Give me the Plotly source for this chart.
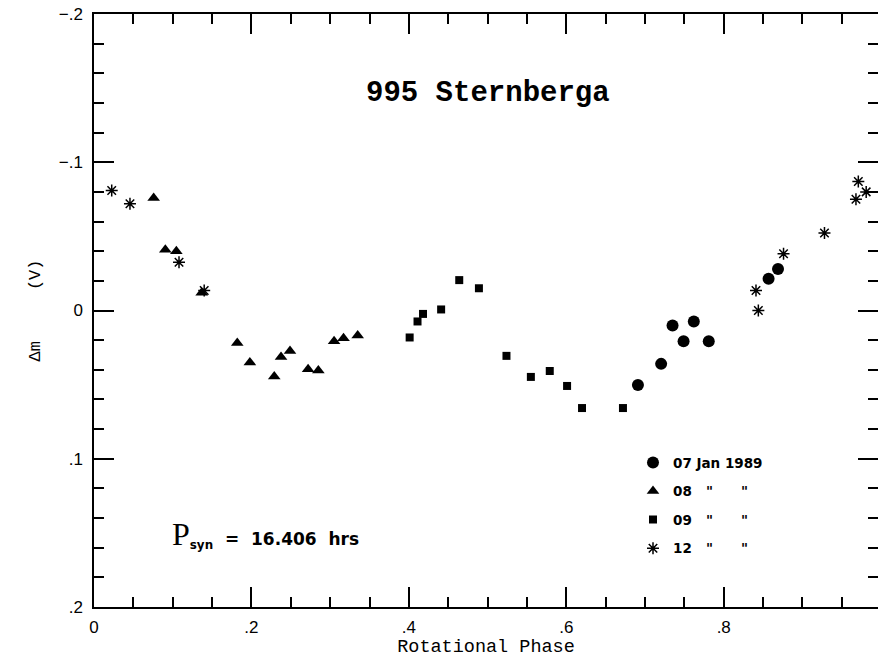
import plotly.graph_objects as go

# ---- data (rotational phase, delta m in V) ----
jan07_phase = [0.691, 0.7205, 0.735, 0.749, 0.762, 0.781, 0.857, 0.869]
jan07_dm = [0.0502, 0.036, 0.0101, 0.0207, 0.0074, 0.0207, -0.0214, -0.028]

jan08_phase = [0.0758, 0.0906, 0.1046, 0.1368, 0.182, 0.198, 0.229, 0.2376,
               0.249, 0.272, 0.285, 0.305, 0.317, 0.335]
jan08_dm = [-0.0759, -0.041, -0.0399, -0.012, 0.022, 0.035, 0.0446, 0.0313,
            0.0273, 0.0396, 0.0405, 0.0207, 0.0187, 0.0169]

jan09_phase = [0.401, 0.411, 0.418, 0.441, 0.464, 0.489, 0.524, 0.555,
               0.579, 0.601, 0.620, 0.672]
jan09_dm = [0.0182, 0.0074, 0.0023, -0.0007, -0.0205, -0.015, 0.0306, 0.0448,
            0.0408, 0.0509, 0.0658, 0.0658]

jan12_phase = [0.0225, 0.0457, 0.108, 0.140, 0.841, 0.844, 0.876, 0.928,
               0.968, 0.971, 0.981]
jan12_dm = [-0.081, -0.072, -0.0326, -0.0135, -0.0135, 0.0, -0.0383, -0.0523,
            -0.075, -0.087, -0.080]

legend_names = ['07 Jan 1989', '08   "      "', '09   "      "', '12   "      "']

x_tickvals = [0, 0.2, 0.4, 0.6, 0.8]
x_ticktext = ['0', '.2', '.4', '.6', '.8']
y_tickvals = [-0.2, -0.1, 0, 0.1, 0.2]
y_ticktext = ['\u2212.2', '\u2212.1', '0', '.1', '.2']

fig = go.Figure()
fig.add_trace(go.Scatter(x=jan07_phase, y=jan07_dm, mode='markers', name=legend_names[0],
                         legendgroup='a',
                         marker=dict(symbol='circle', size=12, color='black')))
fig.add_trace(go.Scatter(x=jan08_phase, y=jan08_dm, mode='markers', name=legend_names[1],
                         legendgroup='b',
                         marker=dict(symbol='triangle-up', size=11, color='black')))
fig.add_trace(go.Scatter(x=jan09_phase, y=jan09_dm, mode='markers', name=legend_names[2],
                         legendgroup='c',
                         marker=dict(symbol='square', size=8, color='black')))
fig.add_trace(go.Scatter(x=jan12_phase, y=jan12_dm, mode='markers', name=legend_names[3],
                         legendgroup='d',
                         marker=dict(symbol='asterisk-open', size=10, color='black',
                                     line=dict(color='black', width=1.5))))
# empty trace so the right-hand tick axis is drawn
fig.add_trace(go.Scatter(x=[], y=[], yaxis='y2', showlegend=False, hoverinfo='skip'))

tickfont = dict(family='Liberation Sans', size=17, color='black')

fig.update_xaxes(
    range=[0, 0.996], tickvals=x_tickvals, ticktext=x_ticktext,
    showline=True, linecolor='black', linewidth=1.5, mirror='ticks',
    ticks='inside', tickcolor='black', tickwidth=1.5, ticklen=20,
    showgrid=False, zeroline=False, tickfont=tickfont,
    minor=dict(dtick=0.05, ticks='inside', ticklen=10, tickcolor='black', tickwidth=1.5,
               showgrid=False),
    title=dict(text='Rotational Phase', font=dict(family='Liberation Mono', size=18.5, color='black'),
               standoff=2),
    ticklabelstandoff=4)

fig.update_layout(
    yaxis=dict(
        range=[0.2, -0.2], tickvals=y_tickvals, ticktext=y_ticktext,
        showline=True, linecolor='black', linewidth=1.5, mirror=False,
        ticks='inside', tickcolor='black', tickwidth=1.5, ticklen=20,
        showgrid=False, zeroline=False, tickfont=tickfont,
        minor=dict(dtick=0.02, ticks='inside', ticklen=10, tickcolor='black', tickwidth=1.5,
                   showgrid=False),
        title=dict(text='\u0394m     (V)', font=dict(family='Liberation Mono', size=17, color='black'),
                   standoff=14),
        ticklabelstandoff=6),
    yaxis2=dict(
        overlaying='y', side='right', range=[0.2, -0.2], tickvals=y_tickvals,
        showticklabels=False, showline=False, showgrid=False, zeroline=False,
        ticks='inside', tickcolor='black', tickwidth=1.5, ticklen=20,
        minor=dict(dtick=0.02, ticks='inside', ticklen=10, tickcolor='black', tickwidth=1.5,
                   showgrid=False)),
)

fig.add_annotation(x=0.5006, y=-0.1466, xref='x', yref='y', text='<b>995 Sternberga</b>',
                   showarrow=False,
                   font=dict(family='Liberation Mono', size=29, color='black'))
fig.add_annotation(x=0.0966, y=0.1507, xref='x', yref='y', xanchor='left',
                   text='<span style="font-family:Liberation Serif;font-size:32px;font-weight:normal">P</span>'
                        '<sub>syn</sub>  =  16.406  hrs',
                   showarrow=False,
                   font=dict(family='DejaVu Sans', size=17, color='black', weight='bold'))

fig.update_layout(
    width=878, height=659,
    margin=dict(l=94, r=0, t=14, b=52),
    paper_bgcolor='white', plot_bgcolor='white',
    showlegend=True,
    legend=dict(x=0.6875, y=0.2694, xanchor='left', yanchor='top',
                bgcolor='rgba(0,0,0,0)', tracegroupgap=8,
                font=dict(family='DejaVu Sans', size=13.5, color='black', weight='bold')),
)

fig.write_html('out.html')
